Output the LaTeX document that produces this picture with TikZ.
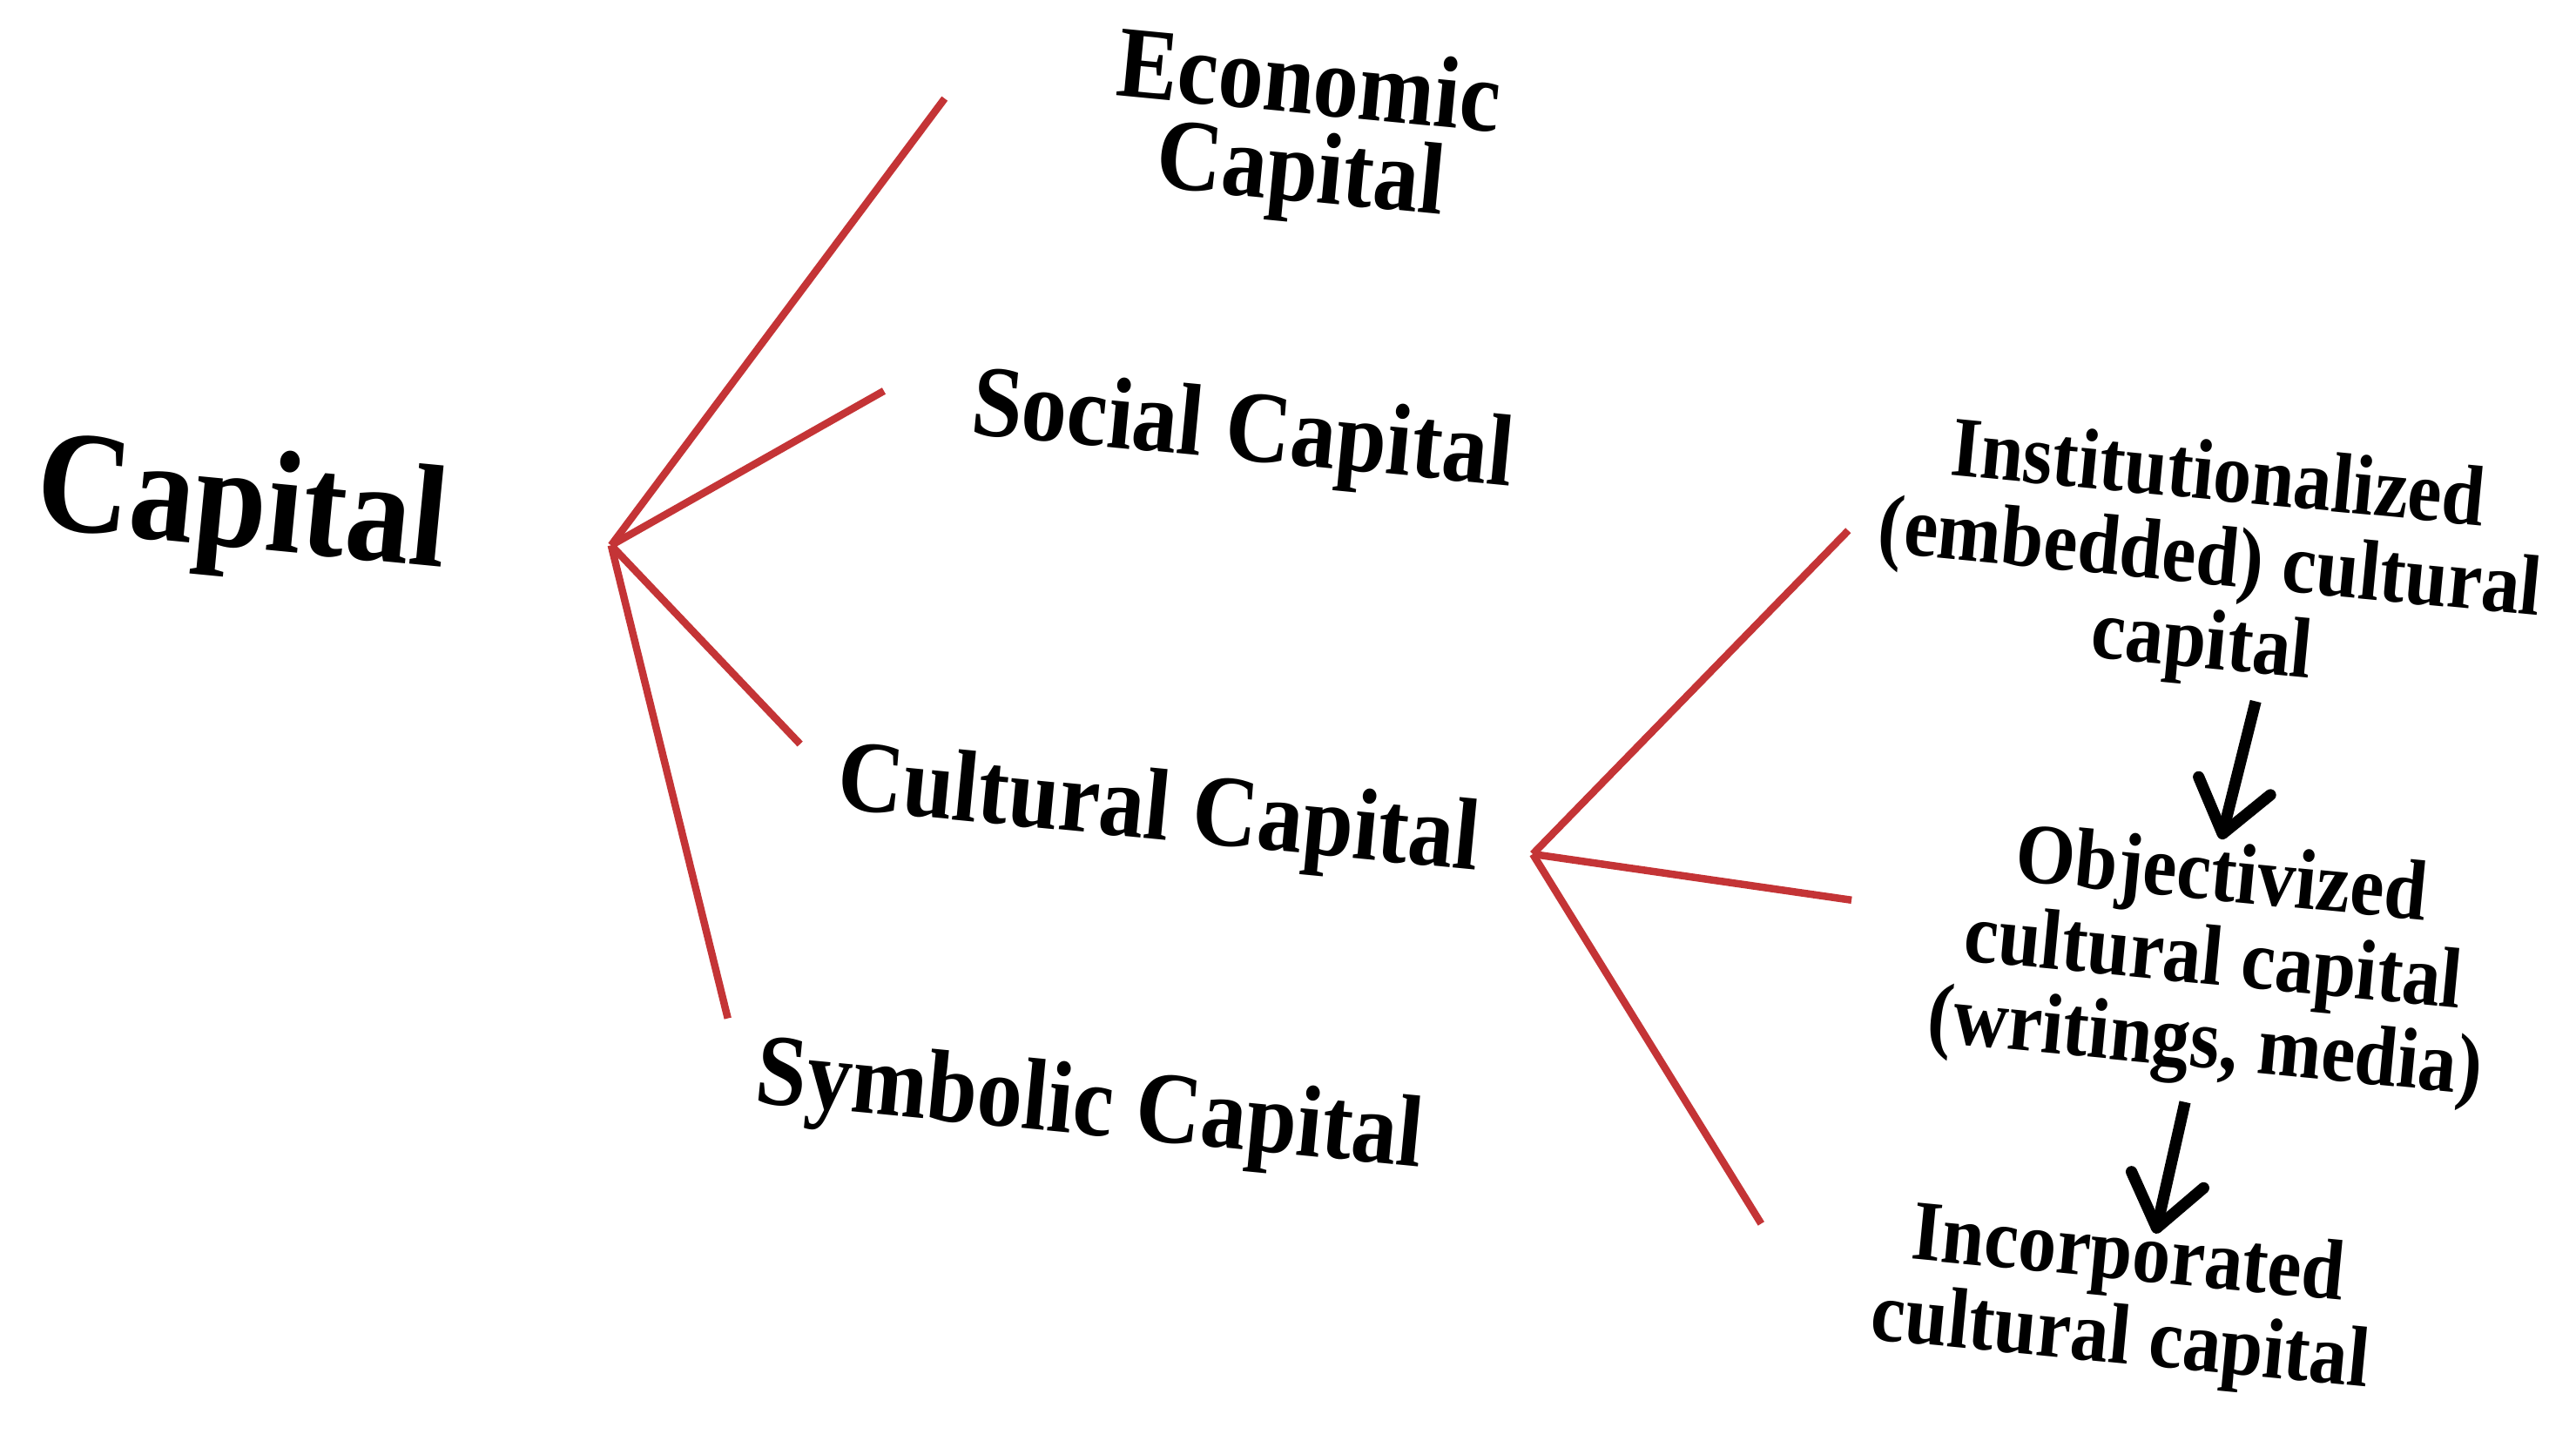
\documentclass[tikz,border=0pt]{standalone}
\usepackage{fontspec}
\setmainfont{Liberation Serif}
\usetikzlibrary{arrows.meta}
\definecolor{branchred}{RGB}{196,52,54}
\tikzset{
	branch/.style={line width=0.09cm, color=branchred},
	flow/.style={line width=0.14cm, color=black, -{Straight Barb[length=0.6cm, width=0.9cm, round]}},
	lbl/.style={font=\bfseries\fontsize{31.5}{27}\selectfont, align=center, rotate=-5.5, yscale=1.12, inner sep=0},
	sublbl/.style={font=\bfseries\fontsize{26.5}{26}\selectfont, align=center, rotate=-5.5, yscale=1.12, inner sep=0}
}

\begin{document}
\begin{tikzpicture}
		%%%%% START %%%%%
		
		\useasboundingbox (0, 0) rectangle (31.36, 17.46);
		
		\node[lbl, font=\bfseries\fontsize{45}{45}\selectfont] (capital) at (2.94, 11.22) {Capital};
		
		\node[lbl] (economic) at (15.88, 15.84) {Economic\\Capital};
		\node[lbl] (social) at (15.12, 12.16) {Social Capital};
		\node[lbl] (cultural) at (14.10, 7.54) {Cultural Capital};
		\node[lbl] (symbolic) at (13.26, 3.94) {Symbolic Capital};
		
		\coordinate (hubA) at (7.44, 10.82);
		\coordinate (econEnd) at (11.50, 16.26);
		\coordinate (socEnd) at (10.76, 12.70);
		\coordinate (cultEnd) at (9.74, 8.40);
		\coordinate (symbEnd) at (8.86, 5.06);
		
		\draw[branch] (hubA) -- (econEnd);
		\draw[branch] (hubA) -- (socEnd);
		\draw[branch] (hubA) -- (cultEnd);
		\draw[branch] (hubA) -- (symbEnd);
		
		\node[sublbl] (inst) at (26.90, 10.60) {Institutionalized\\(embedded) cultural\\capital};
		\node[sublbl] (obj) at (26.94, 5.72) {Objectivized\\cultural capital\\(writings, media)};
		\node[sublbl] (inc) at (25.86, 1.62) {Incorporated\\cultural capital};
		
		\coordinate (hubB) at (18.66, 7.06);
		\coordinate (instEnd) at (22.50, 11.00);
		\coordinate (objEnd) at (22.54, 6.50);
		\coordinate (incEnd) at (21.44, 2.56);
		
		\draw[branch] (hubB) -- (instEnd);
		\draw[branch] (hubB) -- (objEnd);
		\draw[branch] (hubB) -- (incEnd);
		
		\coordinate (instFoot) at (27.46, 8.92);
		\coordinate (objHead) at (27.04, 7.24);
		\coordinate (objFoot) at (26.60, 4.04);
		\coordinate (incHead) at (26.24, 2.44);
		
		\draw[flow] (instFoot) -- (objHead);
		\draw[flow] (objFoot) -- (incHead);
		
		%%%%% END %%%%%
	\end{tikzpicture}
\end{document}
